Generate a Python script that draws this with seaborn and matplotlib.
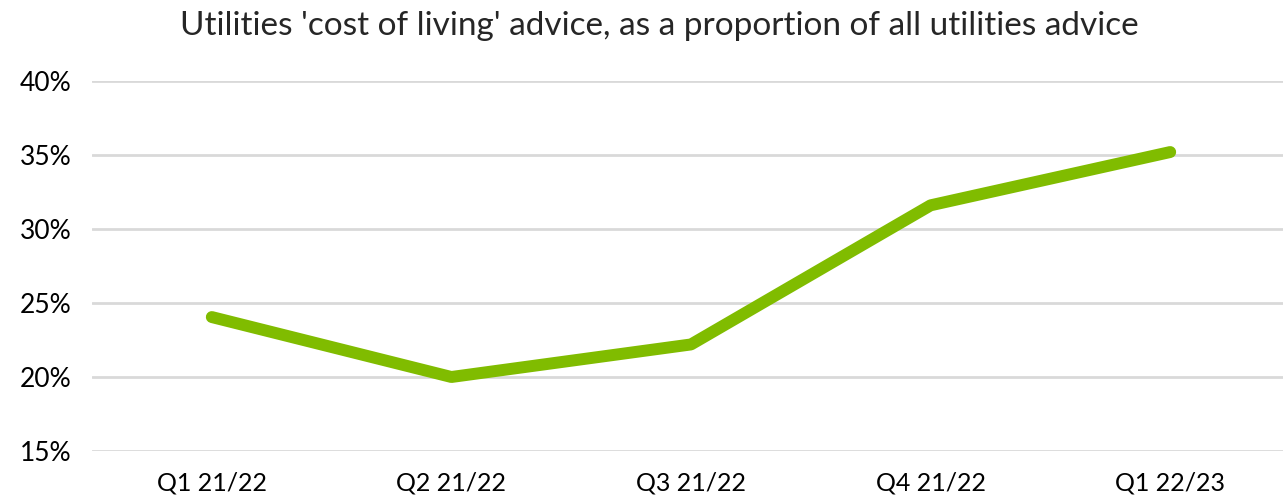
import matplotlib
matplotlib.use("Agg")
import matplotlib.pyplot as plt
import seaborn as sns
import pandas as pd

# Values
quarters = ["Q1 21/22", "Q2 21/22", "Q3 21/22", "Q4 21/22", "Q1 22/23"]
share = [24.05, 20.0, 22.2, 31.6, 35.2]
y_ticks = [15, 20, 25, 30, 35, 40]

df = pd.DataFrame({"quarter": quarters, "share": share})

sns.set_style("white")
plt.rcParams["font.family"] = ["Lato", "DejaVu Sans"]

fig = plt.figure(figsize=(12.83, 4.97), dpi=100)
ax = fig.add_axes([92 / 1283, 46 / 497, 1198 / 1283, 370 / 497])

sns.lineplot(data=df, x="quarter", y="share", ax=ax, color="#80BC00",
             linewidth=8.6, solid_capstyle="round", solid_joinstyle="round",
             sort=False, zorder=3)

ax.set_xlim(-0.5, len(quarters) - 0.5)
ax.set_ylim(15, 40)
ax.set_yticks(y_ticks)
ax.set_yticklabels([f"{t}%" for t in y_ticks])
ax.yaxis.grid(True, color="#D9D9D9", linewidth=2)
ax.set_axisbelow(True)
for s in ax.spines.values():
    s.set_visible(False)
ax.tick_params(axis="both", length=0, colors="black")
ax.tick_params(axis="y", pad=15, labelsize=19)
ax.tick_params(axis="x", pad=15, labelsize=18)
ax.set_xlabel("")
ax.set_ylabel("")

fig.text(0.514, 0.948, "Utilities 'cost of living' advice, as a proportion of all utilities advice",
         ha="center", va="center", fontsize=24)

fig.savefig("out.png", dpi=100)
